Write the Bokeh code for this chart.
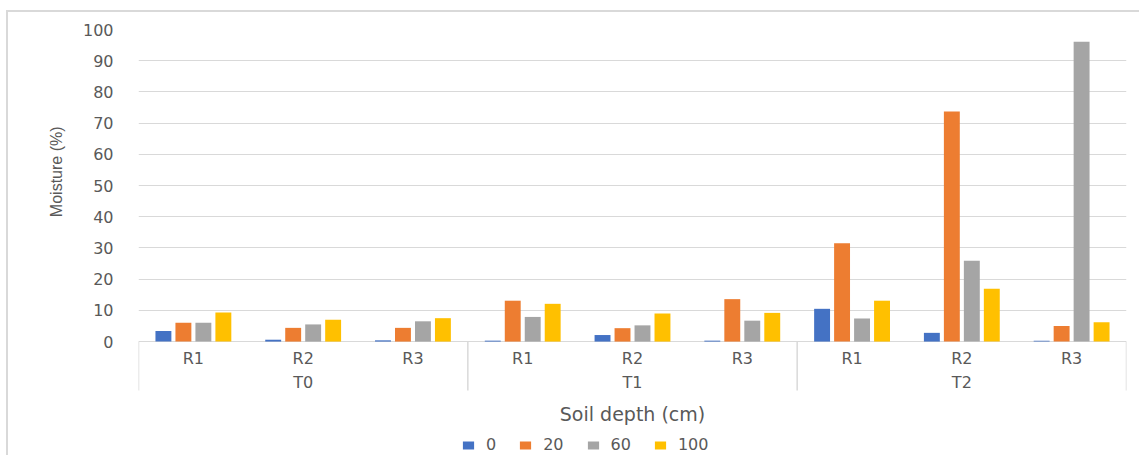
from bokeh.plotting import figure
from bokeh.layouts import row
from bokeh.models import (ColumnDataSource, FactorRange, Range1d, FixedTicker, Legend,
                          LegendItem)
from bokeh.transform import dodge
from bokeh.core.properties import value
from bokeh.embed import file_html
from bokeh.resources import INLINE

groups = ["T0", "T1", "T2"]
reps = ["R1", "R2", "R3"]
depths = ["0", "20", "60", "100"]
colors = ["#4472C4", "#ED7D31", "#A5A5A5", "#FFC000"]

moisture_0 = [3.4, 0.6, 0.4, 0.3, 2.1, 0.3, 10.5, 2.8, 0.3]
moisture_20 = [6.0, 4.4, 4.4, 13.1, 4.3, 13.6, 31.5, 73.7, 5.0]
moisture_60 = [6.0, 5.5, 6.5, 7.9, 5.2, 6.7, 7.4, 25.9, 96.1]
moisture_100 = [9.3, 7.0, 7.5, 12.1, 9.0, 9.2, 13.1, 16.9, 6.2]

y_ticks = list(range(0, 101, 10))

factors = [(g, r) for g in groups for r in reps]
src = ColumnDataSource(dict(x=factors, d0=moisture_0, d20=moisture_20,
                            d60=moisture_60, d100=moisture_100))

TEXT = "#595959"
GRID = "#D9D9D9"
LEFT_W = 75

# narrow strip holding the y-axis title, so it can sit above the plot middle
lab = figure(width=LEFT_W, height=455, output_backend="svg", toolbar_location=None,
             x_range=Range1d(0, LEFT_W), y_range=Range1d(455, 0),
             x_axis_location=None, y_axis_location=None,
             min_border_left=0, min_border_right=0, min_border_top=0, min_border_bottom=0)
lab.outline_line_color = None
lab.border_fill_color = None
lab.background_fill_color = None
lab.grid.grid_line_color = None
lab.text(x=[56], y=[152], text=["Moisture (%)"], angle=1.5707963, text_align="center",
         text_baseline="middle", text_color=TEXT, text_font=value("Liberation Sans"),
         text_font_size="16px")

p = figure(width=1139 - LEFT_W, height=455, output_backend="svg", toolbar_location=None,
           x_range=FactorRange(factors=factors, range_padding=0, factor_padding=0,
                               group_padding=0),
           y_range=Range1d(-36.5, 100), x_axis_location=None,
           min_border_left=138 - LEFT_W, min_border_top=29, min_border_right=13,
           min_border_bottom=0)
p.outline_line_color = None
p.border_fill_color = None

p.yaxis.ticker = FixedTicker(ticks=y_ticks)
p.yaxis.axis_line_color = None
p.yaxis.major_tick_line_color = None
p.yaxis.minor_tick_line_color = None
p.yaxis.major_label_standoff = 19
p.yaxis.major_label_text_font = "DejaVu Sans"
p.yaxis.major_label_text_font_size = "16px"
p.yaxis.major_label_text_color = TEXT
p.xgrid.grid_line_color = None
p.ygrid.grid_line_color = GRID
p.ygrid.grid_line_width = 1

offsets = [-0.273, -0.091, 0.091, 0.273]
cols = ["d0", "d20", "d60", "d100"]
renderers = []
for c, off, col in zip(cols, offsets, colors):
    r = p.vbar(x=dodge("x", off, range=p.x_range), top=c, width=0.145, bottom=0,
               source=src, fill_color=col, line_color=None)
    renderers.append(r)

# category axis box
sep_x = [(groups[0], reps[0], -0.5)] + [(g, reps[-1], 0.5) for g in groups]
p.segment(x0=sep_x, x1=sep_x, y0=[0] * 4, y1=[-15.7] * 4, line_color=GRID, line_width=1.5)

p.text(x=factors, y=[-5.4] * len(factors), text=[f[1] for f in factors],
       text_align="center", text_baseline="middle", text_color=TEXT,
       text_font=value("DejaVu Sans"), text_font_size="16px")
p.text(x=groups, y=[-13.1] * len(groups), text=groups,
       text_align="center", text_baseline="middle", text_color=TEXT,
       text_font=value("DejaVu Sans"), text_font_size="16px")
p.text(x=["T1"], y=[-23.1], text=["Soil depth (cm)"],
       text_align="center", text_baseline="middle", text_color=TEXT,
       text_font=value("DejaVu Sans"), text_font_size="19px")

legend = Legend(items=[LegendItem(label=d, renderers=[r]) for d, r in zip(depths, renderers)],
                orientation="horizontal", location=(323, 1), padding=0, margin=0,
                spacing=22, label_standoff=11, glyph_width=14, glyph_height=10,
                label_height=16, label_width=10, label_text_font="DejaVu Sans",
                label_text_font_size="16px", label_text_color=TEXT,
                border_line_color=None, background_fill_alpha=0)
p.add_layout(legend)

layout = row(lab, p, spacing=0)
layout.styles = {"box-shadow": ("inset 0 10px 0 0 #ffffff, inset 6px 0 0 0 #ffffff, "
                                "inset 0 12px 0 0 #d9d9d9, inset 8px 0 0 0 #d9d9d9")}

open("out.html", "w").write(file_html(layout, INLINE))
